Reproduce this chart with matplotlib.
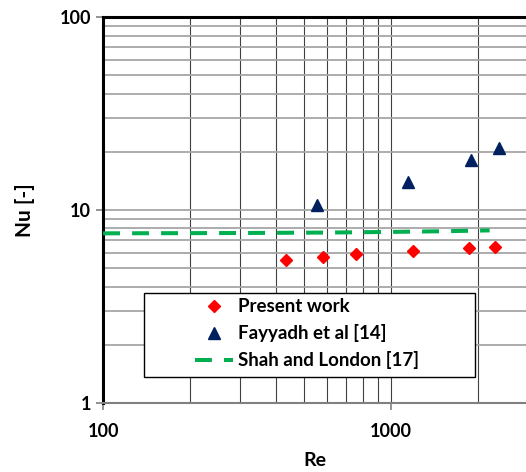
import matplotlib.pyplot as plt
from matplotlib.patches import Rectangle
import numpy as np

plt.rcParams['font.family'] = ['Lato', 'DejaVu Sans']
plt.rcParams['font.weight'] = 'bold'

# Present work
re_present = [432, 581, 756, 1192, 1866, 2297]
nu_present = [5.49, 5.69, 5.87, 6.11, 6.31, 6.41]

# Fayyadh et al [14]
re_fayyadh = [553, 1146, 1896, 2372]
nu_fayyadh = [10.58, 13.9, 18.1, 20.9]

# Shah and London [17]
re_shah = [100, 300, 600, 1000, 1500, 2200]
nu_shah = [7.55, 7.58, 7.62, 7.68, 7.74, 7.82]

W, H = 526, 472
fig = plt.figure(figsize=(W / 100, H / 100), dpi=100)
ax = fig.add_axes([0.196, 0.147, 0.804, 0.817])

ax.set_xscale('log')
ax.set_yscale('log')
ax.set_xlim(100, 2943)
ax.set_ylim(1, 100)

ax.grid(which='both', axis='y', color='#a6a6a6', lw=1.3)
ax.grid(which='both', axis='x', color='#404040', lw=0.8)
ax.set_axisbelow(True)

ax.plot(re_shah, nu_shah, color='#00B050', lw=2.9, dashes=(4.2, 3.0),
        label='Shah and London [17]', zorder=3)
ax.plot(re_present, nu_present, 'D', color='#FF0000', ms=6.5, lw=0,
        label='Present work', zorder=4)
ax.plot(re_fayyadh, nu_fayyadh, '^', color='#002060', ms=9, lw=0,
        label='Fayyadh et al [14]', zorder=4)

for s in ['top', 'left']:
    ax.spines[s].set_linewidth(2.2)
    ax.spines[s].set_color('black')
ax.spines['bottom'].set_linewidth(1.5)
ax.spines['bottom'].set_color('#808080')
ax.spines['right'].set_visible(False)

ax.set_xticks([100, 1000], ['100', '1000'])
ax.set_yticks([1, 10, 100], ['1', '10', '100'])
ax.tick_params(which='minor', length=0)
ax.tick_params(axis='y', which='major', length=5, color='#808080', width=1.2, labelsize=13)
ax.tick_params(axis='x', which='major', length=5, color='#808080', width=1.2, labelsize=13, pad=10)

ax.set_xlabel('Re', fontsize=14, fontweight='bold', labelpad=8)
ax.set_ylabel('Nu [-]', fontsize=15, fontweight='bold', labelpad=18)

# legend box (white with black edge), content placed inside
box = Rectangle((144 / W, 1 - 377 / H), 331 / W, 84 / H, transform=fig.transFigure,
                facecolor='white', edgecolor='black', lw=1.0, zorder=4.5, clip_on=False)
ax.add_patch(box)

h, l = ax.get_legend_handles_labels()
order = [1, 2, 0]
leg = ax.legend([h[i] for i in order], [l[i] for i in order],
                loc='upper left', bbox_to_anchor=(195 / W, 1 - 298.5 / H),
                bbox_transform=fig.transFigure, frameon=False,
                fontsize=13.5, handlelength=2.0, handletextpad=0.3,
                borderpad=0, borderaxespad=0, labelspacing=0.47)

fig.savefig('out.png', dpi=100)
